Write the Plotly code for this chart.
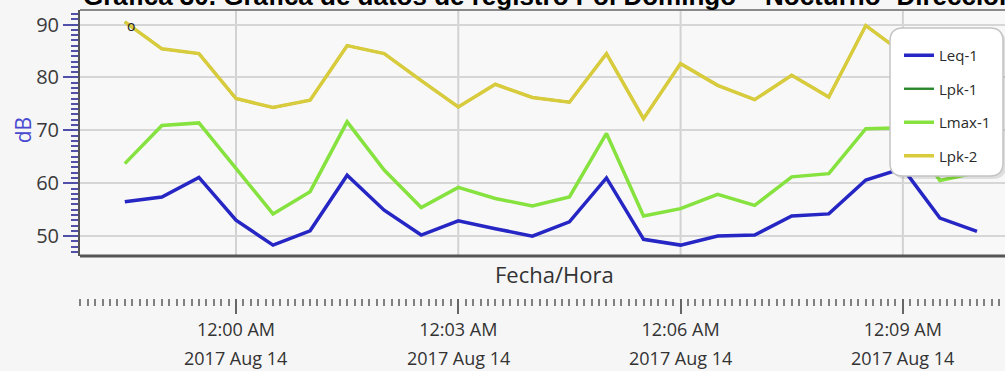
import plotly.graph_objects as go

# Sample times (one reading every 30 s)
times = [
    "2017-08-13 23:58:30", "2017-08-13 23:59:00", "2017-08-13 23:59:30",
    "2017-08-14 00:00:00", "2017-08-14 00:00:30", "2017-08-14 00:01:00",
    "2017-08-14 00:01:30", "2017-08-14 00:02:00", "2017-08-14 00:02:30",
    "2017-08-14 00:03:00", "2017-08-14 00:03:30", "2017-08-14 00:04:00",
    "2017-08-14 00:04:30", "2017-08-14 00:05:00", "2017-08-14 00:05:30",
    "2017-08-14 00:06:00", "2017-08-14 00:06:30", "2017-08-14 00:07:00",
    "2017-08-14 00:07:30", "2017-08-14 00:08:00", "2017-08-14 00:08:30",
    "2017-08-14 00:09:00", "2017-08-14 00:09:30", "2017-08-14 00:10:00",
]

leq_1 = [56.5, 57.4, 61.1, 53.0, 48.3, 51.0, 61.5, 54.9, 50.2, 52.9, 51.4, 50.0,
         52.7, 61.0, 49.4, 48.3, 50.0, 50.2, 53.8, 54.2, 60.6, 62.8, 53.4, 50.9]
lmax_1 = [63.7, 70.9, 71.4, 62.8, 54.2, 58.4, 71.6, 62.5, 55.4, 59.2, 57.1, 55.7,
          57.4, 69.4, 53.8, 55.2, 57.9, 55.8, 61.2, 61.8, 70.3, 70.5, 60.5, 62.0]
lpk_2 = [90.5, 85.4, 84.5, 76.0, 74.3, 75.7, 86.0, 84.5, 79.4, 74.4, 78.7, 76.2,
         75.3, 84.5, 72.2, 82.6, 78.5, 75.8, 80.4, 76.3, 89.8, 84.6, 82.0, 83.5]
# Lpk-1 runs under Lpk-2 with the same readings
lpk_1 = list(lpk_2)

tick_times = ["2017-08-14 00:00:00", "2017-08-14 00:03:00",
              "2017-08-14 00:06:00", "2017-08-14 00:09:00"]
time_labels = ["12:00 AM", "12:03 AM", "12:06 AM", "12:09 AM"]
date_labels = ["2017 Aug 14", "2017 Aug 14", "2017 Aug 14", "2017 Aug 14"]
y_ticks = [50, 60, 70, 80, 90]

title_text = "Gráfica 30. Gráfica de datos de registro Pol Domingo – Nocturno- Dirección"

W, H = 1005, 371
ML, MR, MT, MB = 80, 0, 10, 73
PW, PH = W - ML - MR, H - MT - MB


def px_x(p):
    return (p - ML) / PW


def px_y(p):
    return (H - MB - p) / PH


def rounded_box(x0, y0, x1, y1, r):
    """Rounded rectangle path in paper coordinates from pixel corners."""
    X0, X1 = px_x(x0), px_x(x1)
    Y0, Y1 = px_y(y0), px_y(y1)
    rx, ry = r / PW, r / PH
    return (f"M {X0 + rx},{Y0} L {X1 - rx},{Y0} Q {X1},{Y0} {X1},{Y0 - ry} "
            f"L {X1},{Y1 + ry} Q {X1},{Y1} {X1 - rx},{Y1} "
            f"L {X0 + rx},{Y1} Q {X0},{Y1} {X0},{Y1 + ry} "
            f"L {X0},{Y0 - ry} Q {X0},{Y0} {X0 + rx},{Y0} Z")


FONT = "Open Sans, Noto Sans, sans-serif"

fig = go.Figure()
series = [
    ("Leq-1", leq_1, "#2626c4", 3.5),
    ("Lpk-1", lpk_1, "#2a862a", 2.4),
    ("Lmax-1", lmax_1, "#86e23e", 3.5),
    ("Lpk-2", lpk_2, "#d8cb3c", 3.5),
]
for name, vals, color, lw in series:
    fig.add_trace(go.Scatter(
        x=times, y=vals, name=name, mode="lines", legendgroup=name,
        line=dict(color=color, width=lw),
    ))

bottom_frac = (H - MB - 256) / PH

fig.update_layout(
    width=W, height=H,
    margin=dict(l=ML, r=MR, t=MT, b=MB),
    paper_bgcolor="#f6f6f6",
    plot_bgcolor="#f8f8f8",
    font=dict(family=FONT, color="#333333"),
    showlegend=True,
    legend=dict(
        x=px_x(899), y=px_y(39), xanchor="left", yanchor="top",
        bgcolor="rgba(0,0,0,0)", borderwidth=0,
        font=dict(size=15, color="#2a2a2a", family=FONT),
        tracegroupgap=11, itemwidth=30,
    ),
    xaxis=dict(
        type="date",
        range=["2017-08-13 23:57:53.7", "2017-08-14 00:10:22.7"],
        anchor="free", position=0,
        tickmode="array", tickvals=tick_times, ticktext=time_labels,
        ticks="outside", ticklen=15, tickwidth=2, tickcolor="#666666",
        tickfont=dict(size=18, color="#333333"),
        showgrid=False, showline=False, zeroline=False,
        minor=dict(tickmode="linear", tick0="2017-08-14 00:00:00", dtick=6000,
                   ticks="outside", ticklen=7, tickwidth=2, tickcolor="#808080",
                   showgrid=False),
    ),
    yaxis=dict(
        domain=[bottom_frac, 1],
        range=[46.24, 92.74],
        tickmode="array", tickvals=y_ticks,
        ticks="outside", ticklen=15, tickwidth=2, tickcolor="#5050a8",
        tickfont=dict(size=20, color="#3a3a3a"),
        showgrid=True, gridcolor="#d6d6d6", gridwidth=2,
        showline=True, linecolor="#555555", linewidth=2,
        zeroline=False,
        minor=dict(tickmode="linear", tick0=50, dtick=1, ticks="outside",
                   ticklen=7, tickwidth=1.5, tickcolor="#5050a8", showgrid=False),
    ),
)

shapes = []
# vertical grid at the labelled times
for t in tick_times:
    shapes.append(dict(type="line", xref="x", yref="y domain", x0=t, x1=t,
                       y0=0, y1=1, line=dict(color="#d2d2d2", width=2),
                       layer="below"))
# plot frame: top and bottom edges
shapes.append(dict(type="line", xref="paper", yref="y domain", x0=0, x1=1,
                   y0=1, y1=1, line=dict(color="#8a8a8a", width=2)))
shapes.append(dict(type="line", xref="paper", yref="y domain", x0=0, x1=1,
                   y0=0, y1=0, line=dict(color="#555555", width=3)))
# legend panel with shadow
shapes.append(dict(type="path", xref="paper", yref="paper",
                   path=rounded_box(893, 31, 1006, 179, 13),
                   fillcolor="rgba(0,0,0,0.10)", line=dict(width=0), layer="above"))
shapes.append(dict(type="path", xref="paper", yref="paper",
                   path=rounded_box(890, 28, 1003, 176, 13),
                   fillcolor="#ffffff", line=dict(color="#c4c4c4", width=1.5),
                   layer="above"))
fig.update_layout(shapes=shapes)

annotations = [
    dict(text=title_text, xref="paper", yref="paper", x=0, y=1,
         xanchor="left", yanchor="bottom", showarrow=False, xshift=1, yshift=-3,
         font=dict(family="Liberation Sans, Arial, sans-serif", size=26,
                   color="#000000", weight="bold")),
    dict(text="dB", xref="paper", yref="y", x=0, y=70, xshift=-57,
         textangle=-90, showarrow=False, xanchor="center", yanchor="middle",
         font=dict(size=21, color="#4848d0", family=FONT)),
    dict(text="Fecha/Hora", xref="paper", yref="paper", x=px_x(554), y=px_y(274),
         showarrow=False, xanchor="center", yanchor="middle",
         font=dict(size=22, color="#333333", family=FONT)),
    # marker label at the first Lpk-2 reading
    dict(text="o", xref="x", yref="y", x=times[0], y=lpk_2[0], xshift=6, yshift=-4,
         showarrow=False, font=dict(size=14, color="#222222", family=FONT)),
]
for t, d in zip(tick_times, date_labels):
    annotations.append(dict(text=d, xref="x", yref="paper", x=t, y=px_y(358),
                            showarrow=False, xanchor="center", yanchor="middle",
                            font=dict(size=18, color="#333333", family=FONT)))
fig.update_layout(annotations=annotations)

fig.write_html("out.html")
